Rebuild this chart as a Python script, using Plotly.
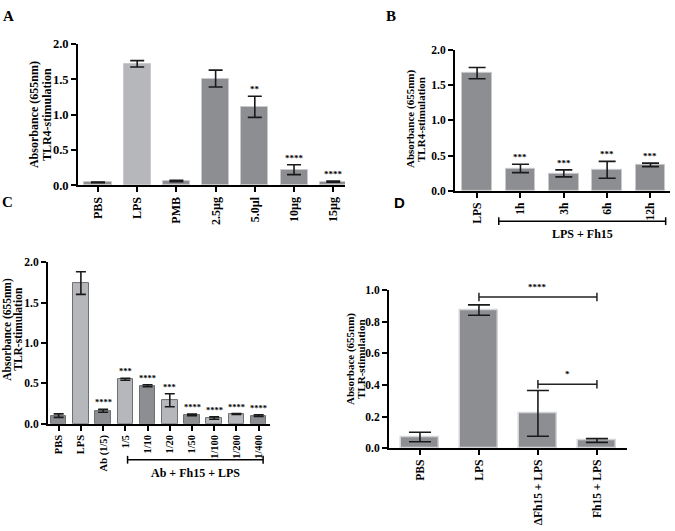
import plotly.graph_objects as go

# ---------------- data ----------------
a_labels = ["PBS", "LPS", "PMB", "2.5µg", "5.0µl", "10µg", "15µg"]
a_values = [0.04, 1.72, 0.06, 1.51, 1.11, 0.22, 0.05]
a_errors = [0.006, 0.045, 0.01, 0.12, 0.15, 0.07, 0.008]
a_stars = ["", "", "", "", "**", "****", "****"]
a_light = [False, True, False, False, False, False, False]

b_labels = ["LPS", "1h", "3h", "6h", "12h"]
b_values = [1.67, 0.32, 0.25, 0.30, 0.37]
b_errors = [0.08, 0.06, 0.05, 0.12, 0.025]
b_stars = ["", "***", "***", "***", "***"]

c_labels = ["PBS", "LPS", "Ab (1/5)", "1/5", "1/10", "1/20", "1/50", "1/100", "1/200", "1/400"]
c_values = [0.10, 1.74, 0.16, 0.55, 0.47, 0.29, 0.11, 0.07, 0.12, 0.10]
c_errors = [0.022, 0.14, 0.018, 0.012, 0.012, 0.08, 0.01, 0.015, 0.006, 0.01]
c_stars = ["", "", "****", "***", "****", "***", "****", "****", "****", "****"]
c_light = [False, True, False, True, False, True, False, True, True, False]

d_labels = ["PBS", "LPS", "ΔFh15 + LPS", "Fh15 + LPS"]
d_values = [0.07, 0.875, 0.22, 0.048]
d_errors = [0.03, 0.033, 0.145, 0.012]

DARK = "#8d8e92"
LIGHT = "#b6b7bb"
SERIF = "Liberation Serif"
W, H = 675, 531


def px_x(a, b):
    return [a / W, b / W]


def px_y(top, bottom):
    return [1 - bottom / H, 1 - top / H]


fig = go.Figure()


def add_bars(idx, labels, values, errors, colors, width, capw, line_color, line_w):
    xs = list(range(len(labels)))
    sfx = "" if idx == 1 else str(idx)
    fig.add_trace(go.Bar(
        x=xs, y=values, width=width,
        marker=dict(color=colors, line=dict(color=line_color, width=line_w)),
        error_y=dict(type="data", array=errors, color="#1a1a1a", thickness=1.6, width=capw),
        xaxis="x" + sfx, yaxis="y" + sfx, showlegend=False, hoverinfo="skip",
    ))


add_bars(1, a_labels, a_values, a_errors, [LIGHT if l else DARK for l in a_light], 0.69, 7, "#c9cacd", 1)
add_bars(2, b_labels, b_values, b_errors, [DARK] * len(b_labels), 0.68, 8.5, "#c9cacd", 1)
add_bars(3, c_labels, c_values, c_errors, [LIGHT if l else DARK for l in c_light], 0.7, 5, "#6e6f73", 1)
add_bars(4, d_labels, d_values, d_errors, [DARK] * len(d_labels), 0.655, 11, "#d4d5d8", 1.5)


def xaxis(dom, labels, rng, anchor, fsize):
    return dict(domain=dom, anchor=anchor, range=rng, tickmode="array",
                tickvals=list(range(len(labels))), ticktext=labels, tickangle=-90,
                showline=True, linecolor="black", linewidth=2, ticks="outside",
                ticklen=5, tickwidth=1.5, tickcolor="black", showgrid=False, zeroline=False,
                tickfont=dict(family=SERIF, size=fsize, color="black", weight="bold"))


def yaxis(dom, rng, dtick, anchor, fsize):
    return dict(domain=dom, anchor=anchor, range=rng, dtick=dtick, tick0=0, tickformat=".1f",
                showline=True, linecolor="black", linewidth=2, ticks="outside",
                ticklen=5, tickwidth=1.5, tickcolor="black", showgrid=False, zeroline=False,
                tickfont=dict(family=SERIF, size=fsize, color="black", weight="bold"))


fig.update_layout(
    width=W, height=H, margin=dict(l=0, r=0, t=0, b=0),
    paper_bgcolor="white", plot_bgcolor="white", bargap=0,
    xaxis=xaxis(px_x(78, 345), a_labels, [-0.51, 6.3], "y", 12),
    yaxis=yaxis(px_y(38, 183), [0, 2.0], 0.5, "x", 12.5),
    xaxis2=xaxis(px_x(455, 670), b_labels, [-0.51, 4.45], "y2", 11.5),
    yaxis2=yaxis(px_y(44, 189), [0, 2.0], 0.5, "x2", 11.5),
    xaxis3=xaxis(px_x(48, 270), c_labels, [-0.48, 9.51], "y3", 10.5),
    yaxis3=yaxis(px_y(262, 428), [0, 2.0], 0.5, "x3", 11.5),
    xaxis4=xaxis(px_x(389, 627), d_labels, [-0.525, 3.51], "y4", 11.5),
    yaxis4=yaxis(px_y(291, 453), [0, 1.0], 0.2, "x4", 11.5),
)

ann = []
shapes = []


def stars(idx, values, errors, s, size):
    sfx = "" if idx == 1 else str(idx)
    for i, (v, e, t) in enumerate(zip(values, errors, s)):
        if t:
            ann.append(dict(x=i, y=v + e, xref="x" + sfx, yref="y" + sfx, text=t, showarrow=False,
                            yanchor="bottom", yshift=0,
                            font=dict(family=SERIF, size=size, color="black", weight="bold")))


stars(1, a_values, a_errors, a_stars, 9)
stars(2, b_values, b_errors, b_stars, 9)
stars(3, c_values, c_errors, c_stars, 8.5)


# y-axis titles (each line placed separately for tight line spacing)
def ytitle(lines, xs, cy, size):
    for text, cx in zip(lines, xs):
        ann.append(dict(x=cx / W, y=1 - cy / H, xref="paper", yref="paper", text=text, showarrow=False,
                        textangle=-90, xanchor="center", yanchor="middle",
                        font=dict(family=SERIF, size=size, color="black", weight="bold")))


ytitle(["Absorbance (655nm)", "TLR4-stimulation"], [34, 47], 111, 12)
ytitle(["Absorbance (655nm)", "TLR4-stimulation"], [411, 421], 115, 11)
ytitle(["Absorbance (655nm)", "TLR-stimulation"], [7.5, 18.5], 331, 11.5)
ytitle(["Absorbace (655nm)", "TLR-stimulation"], [350.5, 361.5], 362, 11)

# panel letters
for letter, x, y, fam in [("A", 8, 9, SERIF), ("B", 391, 9, SERIF), ("C", 7, 200, SERIF),
                          ("D", 399, 201, "Liberation Sans")]:
    ann.append(dict(x=x / W, y=1 - y / H, xref="paper", yref="paper", text=letter, showarrow=False,
                    xanchor="center", yanchor="middle",
                    font=dict(family=fam, size=15, color="black", weight="bold")))


# group brackets under axes (B and C)
def group_bracket(xref, x0, x1, ypx, label, size):
    y = 1 - ypx / H
    shapes.append(dict(type="line", xref=xref, yref="paper", x0=x0, x1=x1, y0=y, y1=y,
                       line=dict(color="black", width=1.5)))
    for xx in (x0, x1):
        shapes.append(dict(type="line", xref=xref, yref="paper", x0=xx, x1=xx,
                           y0=y - 4 / H, y1=y + 4 / H, line=dict(color="black", width=1.5)))
    ann.append(dict(x=(x0 + x1) / 2, y=y - 4 / H, xref=xref, yref="paper", text=label,
                    showarrow=False, yanchor="top",
                    font=dict(family=SERIF, size=size, color="black", weight="bold")))


group_bracket("x2", 0.5, 4.35, 220, "LPS + Fh15", 12)
group_bracket("x3", 3.1, 9.2, 465, "Ab + Fh15 + LPS", 12)


# significance brackets in D
def sig_bracket(x0, x1, yv, label):
    shapes.append(dict(type="line", xref="x4", yref="y4", x0=x0, x1=x1, y0=yv, y1=yv,
                       line=dict(color="#222", width=1.5)))
    for xx in (x0, x1):
        shapes.append(dict(type="line", xref="x4", yref="y4", x0=xx, x1=xx, y0=yv - 0.027, y1=yv + 0.027,
                           line=dict(color="#222", width=1.5)))
    ann.append(dict(x=(x0 + x1) / 2, y=yv + 0.02, xref="x4", yref="y4", text=label, showarrow=False,
                    yanchor="bottom", font=dict(family=SERIF, size=9, color="black", weight="bold")))


sig_bracket(1, 3, 0.957, "****")
sig_bracket(2, 3, 0.404, "*")

fig.update_layout(annotations=ann, shapes=shapes)
fig.write_html("out.html", config={"displayModeBar": False},
               post_script="document.body.style.margin='0';document.body.style.overflow='hidden';")
